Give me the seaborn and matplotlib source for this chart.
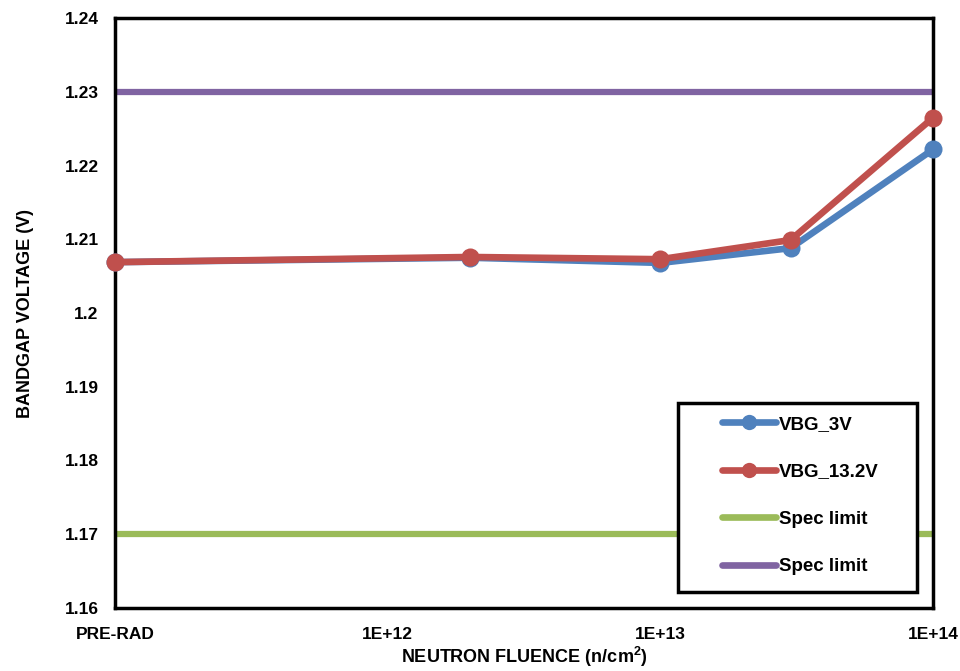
import matplotlib
matplotlib.use("Agg")
import matplotlib.pyplot as plt
import matplotlib.ticker as mticker
from matplotlib.lines import Line2D
from matplotlib.patches import Rectangle
import seaborn as sns
import pandas as pd

# fluence points (PRE-RAD plotted at 1E+11)
fluence = [1e11, 2e12, 1e13, 3e13, 1e14]
vbg_3v = [1.2069, 1.2075, 1.2068, 1.2088, 1.2222]
vbg_13v = [1.2069, 1.2076, 1.2073, 1.2099, 1.2265]
spec_low = 1.17
spec_high = 1.23

x_ticks = [1e11, 1e12, 1e13, 1e14]
x_labels = ["PRE-RAD", "1E+12", "1E+13", "1E+14"]
y_ticks = [1.16, 1.17, 1.18, 1.19, 1.20, 1.21, 1.22, 1.23, 1.24]

BLUE, RED, GREEN, PURPLE = "#4F81BD", "#C0504D", "#9BBB59", "#8064A2"

sns.set_style("white")
plt.rcParams["font.family"] = ["Liberation Sans", "DejaVu Sans"]
plt.rcParams["font.weight"] = "bold"
plt.rcParams["text.color"] = "black"
plt.rcParams["axes.labelcolor"] = "black"
plt.rcParams["mathtext.fontset"] = "custom"
plt.rcParams["mathtext.rm"] = "Liberation Sans:bold"
plt.rcParams["mathtext.bf"] = "Liberation Sans:bold"

df = pd.DataFrame({
    "fluence": fluence * 2,
    "v": vbg_3v + vbg_13v,
    "series": ["VBG_3V"] * len(fluence) + ["VBG_13.2V"] * len(fluence),
})

fig = plt.figure(figsize=(9.6, 6.71), dpi=100)
ax = fig.add_axes([0.12, 0.094, 0.852, 0.879])

ax.axhline(spec_low, color=GREEN, lw=4.5, zorder=1)
ax.axhline(spec_high, color=PURPLE, lw=4.5, zorder=1)

sns.lineplot(data=df, x="fluence", y="v", hue="series",
             palette={"VBG_3V": BLUE, "VBG_13.2V": RED},
             marker="o", markersize=13, markeredgewidth=0, lw=4.8,
             ax=ax, legend=False, zorder=3, clip_on=False)

ax.set_xscale("log")
ax.set_xlim(1e11, 1e14)
ax.set_ylim(1.16, 1.24)
ax.set_xticks(x_ticks)
ax.set_xticklabels(x_labels)
ax.xaxis.set_minor_locator(mticker.NullLocator())
ax.set_yticks(y_ticks)
ax.set_yticklabels([f"{v:g}" for v in y_ticks])
ax.tick_params(axis="both", direction="in", length=4, width=2, labelsize=12.5,
               colors="black", pad=12)
ax.tick_params(axis="x", pad=14)
for lab in ax.get_xticklabels() + ax.get_yticklabels():
    lab.set_fontweight("bold")

for sp in ax.spines.values():
    sp.set_linewidth(2.5)
    sp.set_color("black")

ax.set_xlabel("NEUTRON FLUENCE (n/cm$^{\\mathbf{2}}$)", fontsize=13, fontweight="bold", labelpad=2)
ax.set_ylabel("BANDGAP VOLTAGE (V)", fontsize=13, fontweight="bold", labelpad=22)

# legend box drawn separately so the padding matches
ax.add_patch(Rectangle((0.688, 0.027), 0.292, 0.32, transform=ax.transAxes,
                       facecolor="white", edgecolor="black", lw=2.5, zorder=5))
handles = [
    Line2D([], [], color=BLUE, lw=4.8, marker="o", markersize=11, markeredgewidth=0),
    Line2D([], [], color=RED, lw=4.8, marker="o", markersize=11, markeredgewidth=0),
    Line2D([], [], color=GREEN, lw=4.8),
    Line2D([], [], color=PURPLE, lw=4.8),
]
leg = ax.legend(handles, ["VBG_3V", "VBG_13.2V", "Spec limit", "Spec limit"],
                loc="upper left", bbox_to_anchor=(0.742, 0.326),
                frameon=False, prop={"size": 13.5, "weight": "bold"},
                handlelength=2.9, handletextpad=0.15, labelspacing=1.62,
                borderpad=0, borderaxespad=0)
leg.set_zorder(6)

fig.savefig("out.png", dpi=100)
